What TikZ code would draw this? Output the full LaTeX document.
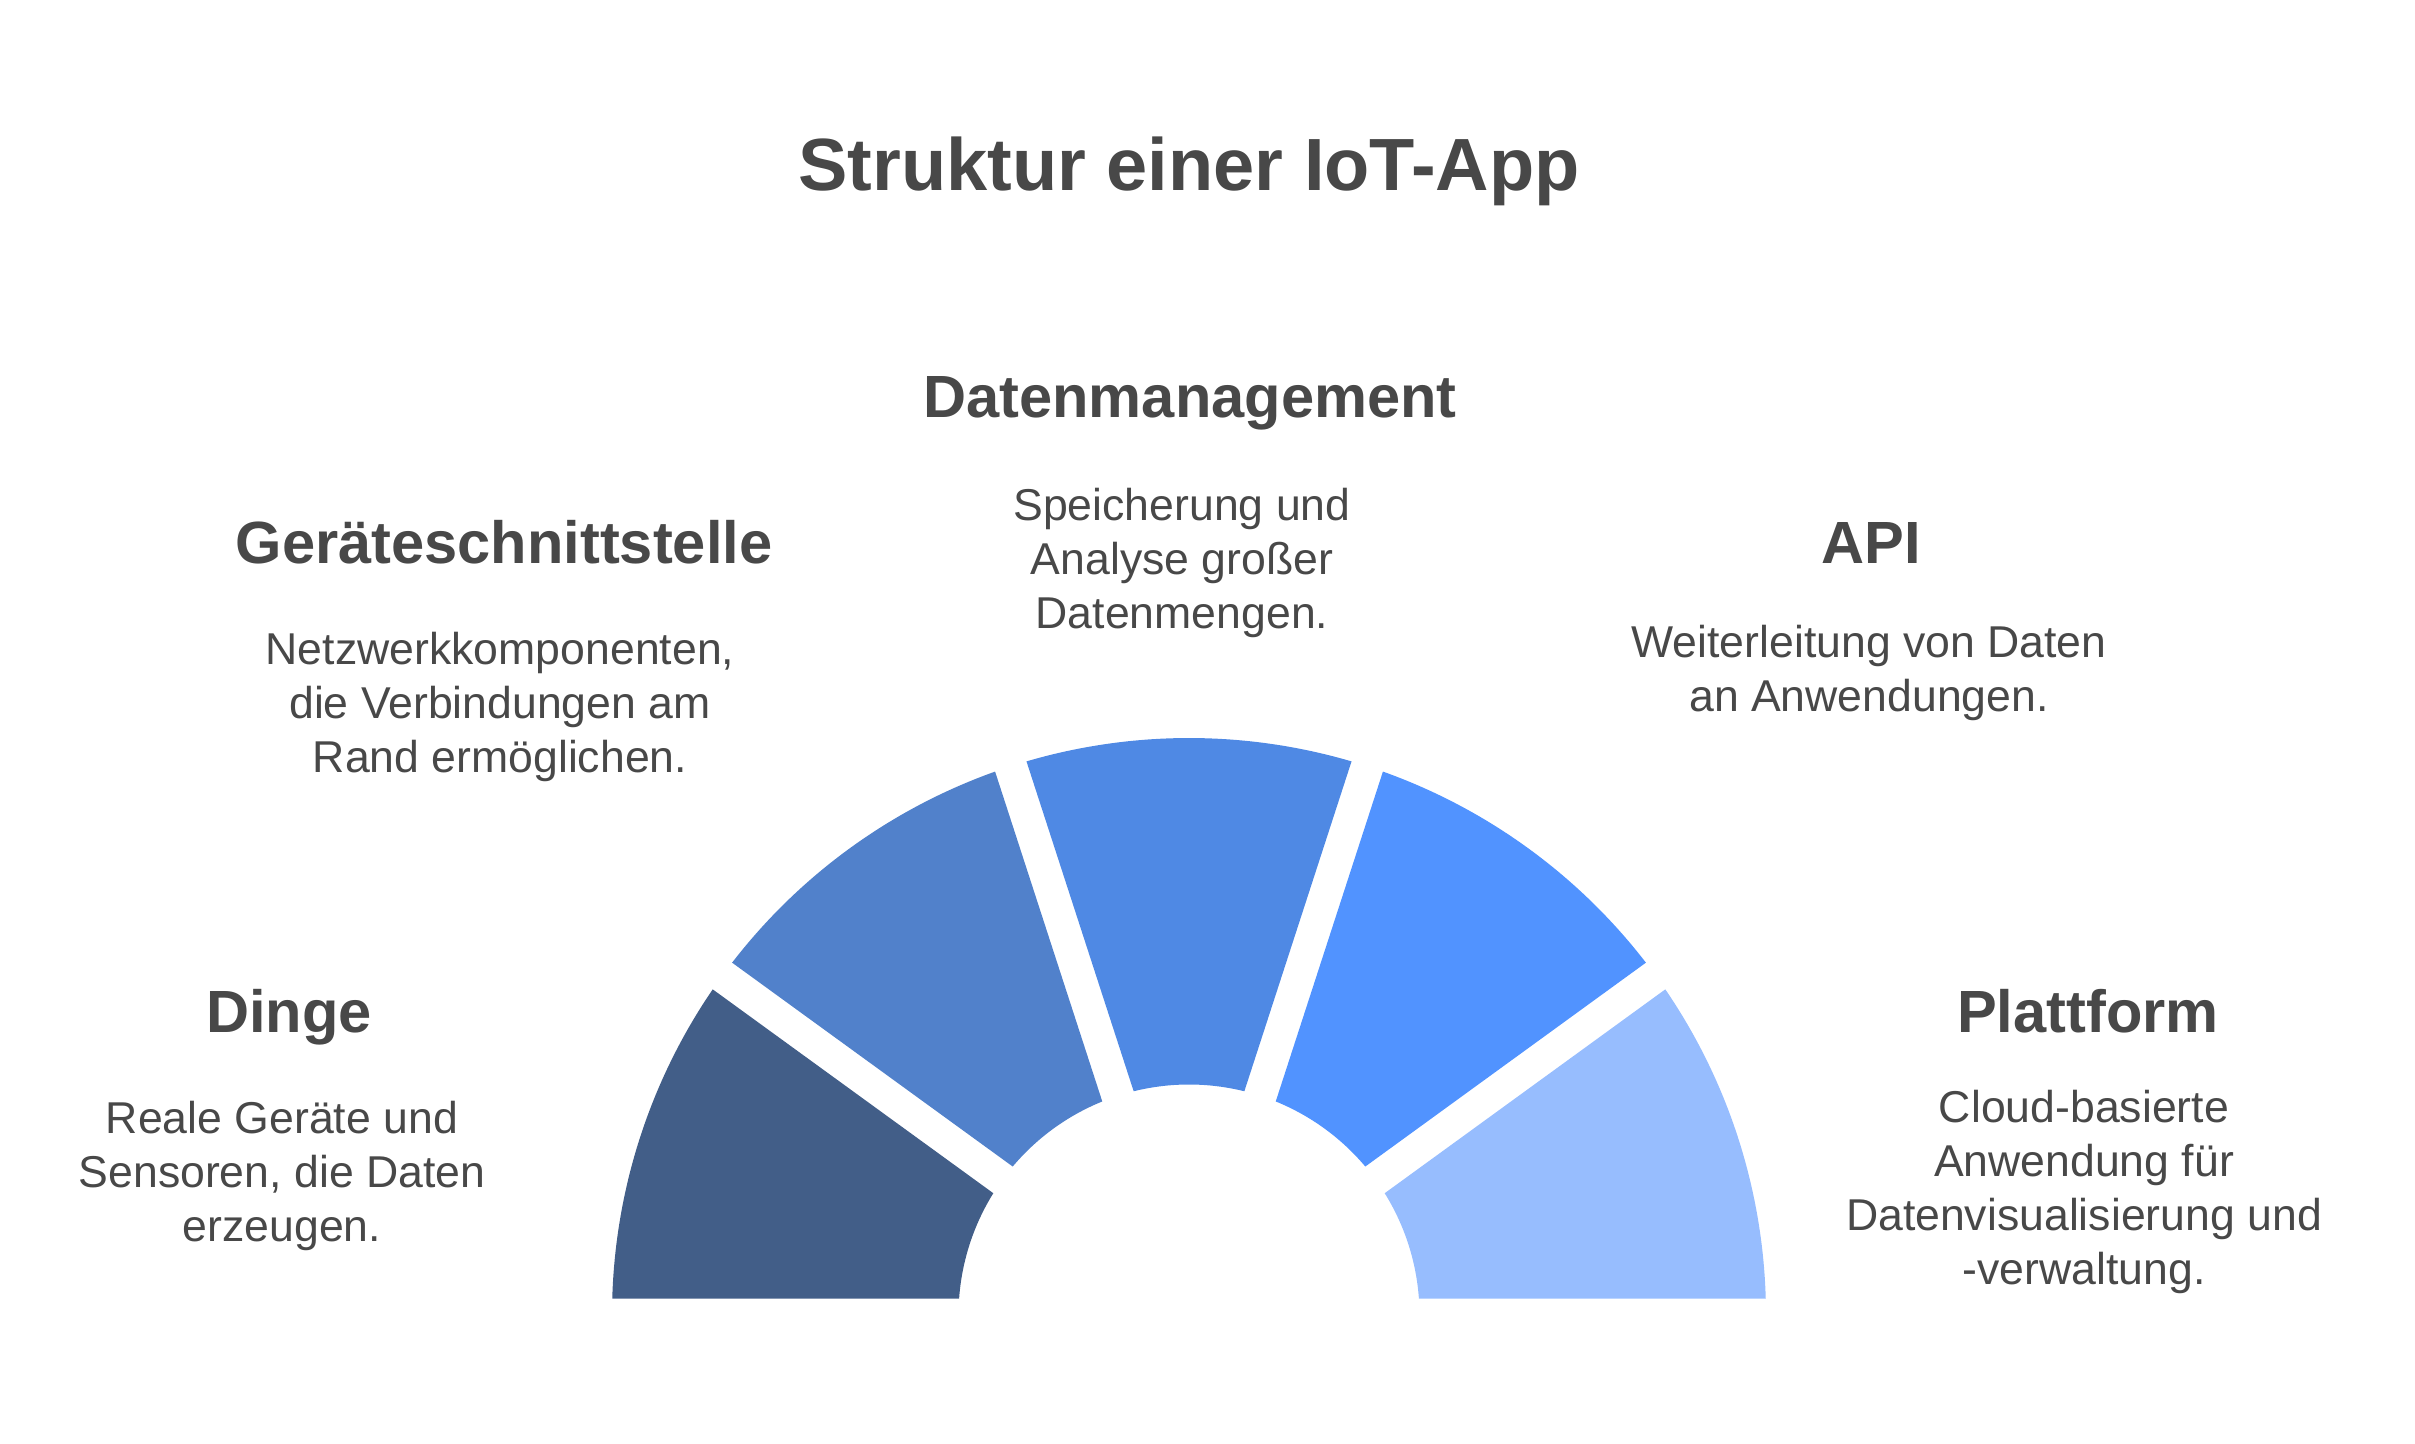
\documentclass[tikz,border=0pt]{standalone}
\usepackage{fontspec}
\setmainfont{Liberation Sans}

\definecolor{textgray}{HTML}{484848}
\definecolor{segA}{HTML}{425E88}
\definecolor{segB}{HTML}{5181CB}
\definecolor{segC}{HTML}{4F89E4}
\definecolor{segD}{HTML}{5193FF}
\definecolor{segE}{HTML}{97BDFE}

\begin{document}
\begin{tikzpicture}[
    x=0.5pt, y=0.5pt,
    maintitle/.style = {anchor=base, text=textgray, font=\fontsize{37}{44}\selectfont\bfseries},
    heading/.style = {anchor=base, text=textgray, font=\fontsize{29.8}{36}\selectfont\bfseries},
    desc/.style = {anchor=base, text=textgray, align=center, inner sep=0pt, font=\fontsize{22.3}{27}\selectfont}
]

\useasboundingbox (0,0) rectangle (2415,-1444);

% Title
\node[maintitle] (title) at (1189,-191) {Struktur einer IoT-App};

% Half ring
\begin{scope}[shift={(1189,-1315)}]
\foreach \a/\col in {180/segA, 144/segB, 108/segC, 72/segD, 36/segE} {
    \pgfmathsetmacro\b{\a-36}
    \fill[\col] (\a-1.639:577) arc[start angle=\a-1.639, end angle=\b+1.639, radius=288.5pt]
        -- (\b+4.105:230.5) arc[start angle=\b+4.105, end angle=\a-4.105, radius=115.25pt] -- cycle;
}
\end{scope}

% Dinge (desc anchored at last baseline)
\node[heading] (dinge) at (289,-1032) {Dinge};
\node[desc] (dingetext) at (282,-1241) {Reale Geräte und\\ Sensoren, die Daten\\ erzeugen.};

% Geräteschnittstelle
\node[heading] (geraet) at (504,-563) {Geräteschnittstelle};
\node[desc] (geraettext) at (500,-772) {Netzwerkkomponenten,\\ die Verbindungen am\\ Rand ermöglichen.};

% Datenmanagement
\node[heading] (daten) at (1190,-418) {Datenmanagement};
\node[desc] (datentext) at (1182,-628) {Speicherung und\\ Analyse großer\\ Datenmengen.};

% API
\node[heading] (api) at (1871,-563) {API};
\node[desc] (apitext) at (1869,-711) {Weiterleitung von Daten\\ an Anwendungen.};

% Plattform
\node[heading] (plattform) at (2088,-1032) {Plattform};
\node[desc] (plattformtext) at (2084,-1284) {Cloud-basierte\\ Anwendung für\\ Datenvisualisierung und\\ -verwaltung.};

\end{tikzpicture}
\end{document}
